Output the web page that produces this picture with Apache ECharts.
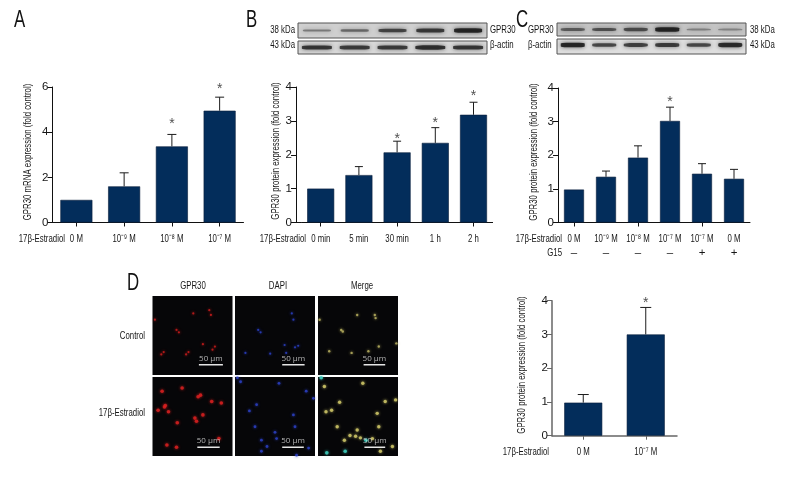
<!DOCTYPE html>
<html><head><meta charset="utf-8">
<style>html,body{margin:0;padding:0;background:#fff}#c{width:792px;height:480px}</style>
<script src="https://cdn.jsdelivr.net/npm/echarts@6/dist/echarts.min.js"></script>
</head><body><div id="c"></div>
<script>
// ---- bar data
const aCats = ['0 M','10⁻⁹ M','10⁻⁸ M','10⁻⁷ M'];
const aVals = [1,1.6,3.37,4.95];
const aErrTops = [null,2.2,3.9,5.55];
const aStars = [null,null,4.45,6.0];
const bCats = ['0 min','5 min','30 min','1 h','2 h'];
const bVals = [1,1.4,2.07,2.35,3.18];
const bErrTops = [null,1.65,2.4,2.8,3.55];
const bStars = [null,null,2.52,2.99,3.79];
const cCats = ['0 M','10⁻⁹ M','10⁻⁸ M','10⁻⁷ M','10⁻⁷ M','0 M'];
const cG15 = ['–','–','–','–','+','+'];
const cVals = [0.98,1.36,1.93,3.02,1.45,1.3];
const cErrTops = [null,1.53,2.28,3.43,1.75,1.58];
const cStars = [null,null,null,3.64,null,null];
const dCats = ['0 M','10⁻⁷ M'];
const dVals = [0.98,3];
const dErrTops = [1.22,3.8];
const dStars = [null,3.98];
// ---- western blot band intensity per lane
const bGpr30 = [0.25,0.4,0.7,0.8,1];
const bActin = [0.85,0.8,0.8,0.9,0.85];
const cGpr30 = [0.45,0.55,0.6,1,0.15,0.12];
const cActin = [1,0.7,0.75,0.8,0.7,0.95];
// ---- micrograph spots, percent of panel [x,y]
const redControl = [[51,22],[73,24],[71,18],[30,43],[33,46],[14,71],[11,74],[45,71],[42,74],[78,64],[75,68],[63,61],[3,30]];
const blueControl = [[71,22],[73,30],[29,43],[32,46],[13,72],[44,73],[75,65],[79,63],[62,62],[64,72]];
const mergeControl = [[71,24],[29,43],[14,70],[42,72],[76,64],[63,70],[49,24],[72,28],[31,45],[98,60],[2,30]];
const redTreated = [[12,18],[37,14],[57,25],[60,23],[7,42],[15,38],[20,44],[63,48],[53,52],[31,58],[55,56],[83,78],[18,86],[30,89],[74,31],[86,33],[16,36]];
const blueTreated = [[7,6],[55,8],[27,35],[18,43],[73,48],[25,63],[75,63],[50,70],[33,80],[52,78],[89,18],[98,27],[33,94],[77,99],[92,90],[3,1],[40,88]];
const mergeTreated = [[8,12],[56,8],[27,32],[84,31],[97,29],[17,42],[10,44],[74,46],[24,63],[76,63],[49,67],[47,75],[33,80],[53,77],[40,74],[93,88],[78,94],[68,78]];
const mergeTreatedCyan = [[4,1],[34,94],[11,96],[60,80]];

const FONT = '"Liberation Sans",Arial,sans-serif';
const INK = '#161616';
const SX = 0.68;
const grid = [], xAxis = [], yAxis = [], series = [], graphic = [], later = [];
function text(t, x, y, opt) {
  const o = opt||{};
  graphic.push({type:'text', x, y, silent:true, scaleX:o.sx||SX, rotation:o.rot||0,
    style:{text:t, fill:o.fill||INK, font:(o.size||11.5)+'px '+FONT, align:o.align||'left', verticalAlign:'middle'}});
}
function barPanel(p) {
  const i = grid.length;
  grid.push({left:p.l, top:p.t, width:p.w, height:p.h});
  const lineCol = p.axisColor || '#111', lw = p.axisWidth || 1;
  xAxis.push({type:'category', gridIndex:i, data:p.cats,
    axisLine:{lineStyle:{color:lineCol,width:lw}}, axisTick:{show:true,alignWithLabel:true,length:4,lineStyle:{color:lineCol}},
    axisLabel:{show:false}});
  yAxis.push({type:'value', gridIndex:i, min:0, max:p.max, interval:p.step, splitLine:{show:false}, offset:p.yOffset||0,
    axisLine:{show:true,lineStyle:{color:lineCol,width:lw}}, axisTick:{show:true,length:5,lineStyle:{color:lineCol}},
    axisLabel:{color:INK,fontFamily:FONT,fontSize:11.5,margin:4}});
  series.push({type:'bar', xAxisIndex:i, yAxisIndex:i, data:p.vals, barWidth:p.bar, silent:true,
    itemStyle:{color:'#032d5b',borderColor:'#0a1f3a',borderWidth:0.6}});
  series.push({type:'custom', xAxisIndex:i, yAxisIndex:i, silent:true, clip:false,
    data:p.errs.map((e,k)=>e==null?null:[k,p.vals[k],e]).filter(Boolean),
    renderItem:(params,api)=>{
      const a = api.coord([api.value(0),api.value(1)]), b = api.coord([api.value(0),api.value(2)]);
      const st = {stroke:'#1c1c1c',lineWidth:1,fill:null};
      return {type:'group',children:[
        {type:'line',shape:{x1:a[0],y1:a[1],x2:b[0],y2:b[1]},style:st},
        {type:'line',shape:{x1:b[0]-p.cap,y1:b[1],x2:b[0]+p.cap,y2:b[1]},style:st}]};
    }});
  series.push({type:'scatter', xAxisIndex:i, yAxisIndex:i, silent:true, clip:false, symbolSize:1,
    itemStyle:{color:'transparent'},
    data:p.stars.map((s,k)=>s==null?null:[k,s]).filter(Boolean),
    label:{show:true,formatter:'*',position:'inside',offset:[0,2],color:'#222',fontFamily:FONT,fontSize:14}});
  text(p.yName, p.nameX, p.nameY, {rot:Math.PI/2, align:'center'});
  text('17β-Estradiol', p.labX, p.labY, {align:'right'});
  if (p.under) text('G15', p.labX, p.labY+13.5, {align:'right'});
  if (p.yOffset) graphic.push({type:'line',silent:true,shape:{x1:p.l-p.yOffset,y1:p.t+p.h,x2:p.l,y2:p.t+p.h},style:{stroke:lineCol,lineWidth:lw}});
  later.push(()=>p.cats.forEach((c,k)=>{
    const x = chart.convertToPixel({gridIndex:i},[k,0])[0];
    text(c, x, p.labY, {align:'center'});
    if (p.under) text(p.under[k], x, p.labY+13.5, {align:'center',sx:1});
  }));
}
function blot(l,t,w,h,cats,vals,bg,bandW,yPos) {
  const i = grid.length;
  grid.push({left:l,top:t,width:w,height:h,show:true,backgroundColor:bg,borderColor:'#555',borderWidth:1});
  xAxis.push({type:'category',gridIndex:i,data:cats,show:false});
  yAxis.push({type:'value',gridIndex:i,min:0,max:1,show:false,splitLine:{show:false}});
  series.push({type:'scatter',xAxisIndex:i,yAxisIndex:i,silent:true,symbol:'roundRect',
    data:vals.map((v,k)=>[k,yPos,v]),
    symbolSize:d=>[bandW,1.4+d[2]*3.2],
    itemStyle:{color:p=>'rgba(10,10,10,'+(0.3+0.7*p.data[2])+')',shadowColor:'rgba(0,0,0,0.7)',shadowBlur:4}});
}
function micro(l,t,sets,bar,barY) {
  const i = grid.length;
  grid.push({left:l,top:t,width:80,height:79,show:true,backgroundColor:'#060608',borderColor:'#060608',borderWidth:0});
  xAxis.push({type:'value',gridIndex:i,min:0,max:100,show:false,splitLine:{show:false}});
  yAxis.push({type:'value',gridIndex:i,min:0,max:100,inverse:true,show:false,splitLine:{show:false}});
  sets.forEach(s=>series.push({type:'scatter',xAxisIndex:i,yAxisIndex:i,silent:true,data:s.data,symbolSize:s.size,
    itemStyle:{color:s.color,opacity:0.85,shadowColor:s.color,shadowBlur:3}}));
  series.push({type:'line',xAxisIndex:i,yAxisIndex:i,silent:true,symbol:'none',data:[[bar[0],barY],[bar[1],barY]],
    lineStyle:{color:'#e6e6e6',width:1.4}});
  series.push({type:'scatter',xAxisIndex:i,yAxisIndex:i,silent:true,symbolSize:1,itemStyle:{color:'transparent'},
    data:[[(bar[0]+bar[1])/2,barY-8]],
    label:{show:true,position:'inside',formatter:'50 µm',color:'#dcdcdc',fontFamily:'"Open Sans",sans-serif',fontSize:8}});
}

barPanel({l:52.5,t:87,w:191,h:135.5,cats:aCats,vals:aVals,errs:aErrTops,stars:aStars,max:6,step:2,bar:32,cap:4.5,
  yName:'GPR30 mRNA expression (fold control)',nameX:28,nameY:152,labX:65,labY:239});
barPanel({l:301.6,t:87,w:191,h:135.5,yOffset:5.6,cats:bCats,vals:bVals,errs:bErrTops,stars:bStars,max:4,step:1,bar:27,cap:4,
  yName:'GPR30 protein expression (fold control)',nameX:276,nameY:151,labX:306,labY:239});
barPanel({l:558,t:88,w:192,h:134.5,cats:cCats,under:cG15,vals:cVals,errs:cErrTops,stars:cStars,max:4,step:1,bar:20,cap:4,
  yName:'GPR30 protein expression (fold control)',nameX:534,nameY:152,labX:562,labY:239});
barPanel({l:552,t:300.7,w:125,h:135,cats:dCats,vals:dVals,errs:dErrTops,stars:dStars,max:4,step:1,bar:38,cap:5.5,
  axisColor:'#666',axisWidth:1.5,yName:'GPR30 protein expression (fold control)',nameX:522,nameY:365,labX:549,labY:452});

// western blots
blot(298,23,189,15,bCats,bGpr30,'#cfcfcf',28,0.5);
blot(298,41,189,13,bCats,bActin,'#d8d8d8',30,0.5);
blot(557,23,189,13,cCats,cGpr30,'#c4c4c4',24,0.5);
blot(557,39,189,15,cCats,cActin,'#dedede',24,0.6);

// micrographs
const RED='#c81c1c', BLUE='#2b3fc4', YEL='#b8b060', CY='#3fd0c0';
micro(152.5,296,[{data:redControl,color:RED,size:2.2}],[58,88],87);
micro(235,296,[{data:blueControl,color:BLUE,size:2.2}],[59,87],87);
micro(318,296,[{data:mergeControl,color:YEL,size:2.4}],[57,84],87);
micro(152.5,377,[{data:redTreated,color:'#d82020',size:3.6}],[56,84],89);
micro(235,377,[{data:blueTreated,color:BLUE,size:2.8}],[59,86],89);
micro(318,377,[{data:mergeTreated,color:'#d0c868',size:3.4},{data:mergeTreatedCyan,color:CY,size:3.6}],[58,84],89);

// text
[['A',14,20],['B',246,20],['C',516,20],['D',127,283]].forEach(a=>text(a[0],a[1],a[2],{size:24,sx:0.7,fill:'#111'}));
text('38 kDa',295,30,{align:'right'}); text('43 kDa',295,45,{align:'right'});
text('GPR30',490,30); text('β-actin',490,45);
text('GPR30',528,30); text('β-actin',528,45);
text('38 kDa',750,30); text('43 kDa',750,45);
text('GPR30',193,286,{align:'center'});
text('DAPI',278,286,{align:'center'});
text('Merge',362,286,{align:'center'});
text('Control',145,336,{align:'right'});
text('17β-Estradiol',145,413,{align:'right'});

const chart = echarts.init(document.getElementById('c'),null,{renderer:'canvas'});
chart.setOption({animation:false,backgroundColor:'#fff',grid,xAxis,yAxis,series});
later.forEach(f=>f());
chart.setOption({graphic});
</script></body></html>
